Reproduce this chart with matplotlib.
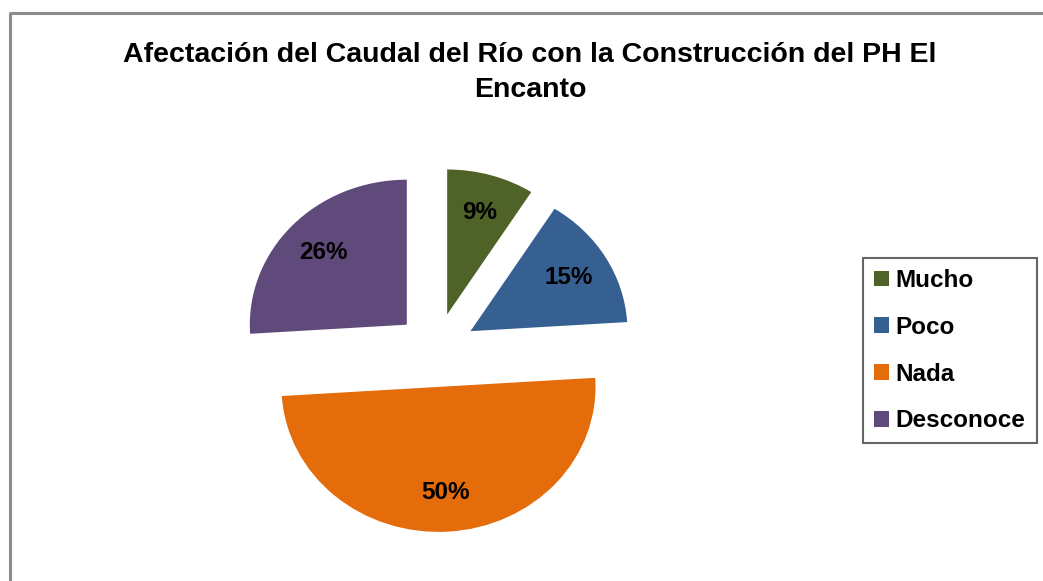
import matplotlib
matplotlib.use("Agg")
import matplotlib.pyplot as plt
from matplotlib.lines import Line2D

categories = ["Mucho", "Poco", "Nada", "Desconoce"]
values = [9, 15, 50, 26]
colors = ["#4F6228", "#376092", "#E46C0A", "#604A7B"]
title = "Afectación del Caudal del Río con la Construcción del PH El\nEncanto"

plt.rcParams['font.family'] = ['Liberation Sans', 'DejaVu Sans']

W, H = 1043, 581
fig = plt.figure(figsize=(W / 100, H / 100), dpi=100)
fig.patch.set_facecolor("white")

# outer chart frame (left and top edges visible)
fx, fy = 9.5 / W, 1 - 12.5 / H
fig.add_artist(Line2D([fx, fx, 1.02], [-0.02, fy, fy], transform=fig.transFigure,
                      color="#8c8c8c", linewidth=2.2))

# pie axes: center (436,350), rx 157, ry 145 px
cx, cy, rx, ry = 436, 350, 157, 145
aw, ah = 2.5 * rx, 2.5 * ry
ax = fig.add_axes([(cx - aw / 2) / W, 1 - (cy + ah / 2) / H, aw / W, ah / H])
wedges, texts, autotexts = ax.pie(
    values, colors=colors, explode=[0.255] * len(values), startangle=90,
    counterclock=False, autopct=lambda p: f"{p:.0f}%", pctdistance=0.73,
    textprops=dict(fontsize=17.5, fontweight="bold", color="black"))
ax.set_aspect("auto")
ax.set_xlim(-1.25, 1.25)
ax.set_ylim(-1.25, 1.25)

fig.text(530 / W, 1 - 72.5 / H, title, ha="center", va="center",
         fontsize=20.5, fontweight="bold", linespacing=1.45)

leg = fig.legend(wedges, categories, loc="upper left",
                 bbox_to_anchor=(863 / W, 1 - 258 / H), borderaxespad=0,
                 frameon=True, fancybox=False, edgecolor="#404040",
                 prop=dict(size=17.5, weight="bold"), handlelength=0.6,
                 handleheight=0.6, handletextpad=0.3, labelspacing=0.98,
                 borderpad=0.45)
leg.get_frame().set_linewidth(1.5)

fig.savefig("out.png", dpi=100, facecolor="white")
